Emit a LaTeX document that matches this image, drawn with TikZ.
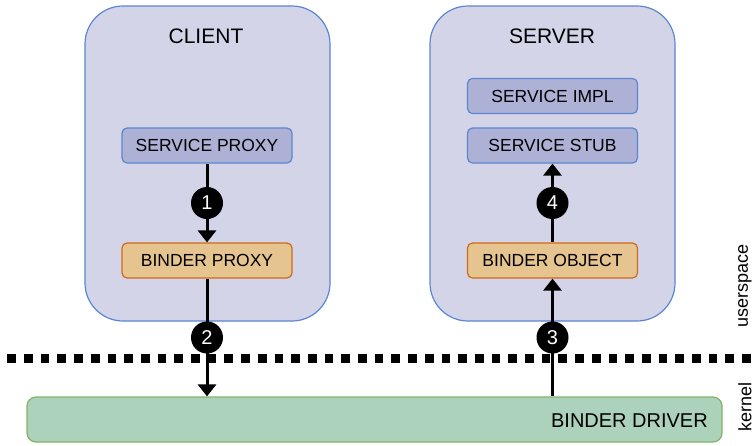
\documentclass[tikz,border=0pt]{standalone}
\usepackage{fontspec}
\setmainfont{Liberation Sans}
\usetikzlibrary{arrows.meta}
\definecolor{contfill}{RGB}{211,212,232}
\definecolor{contline}{RGB}{91,135,207}
\definecolor{svcfill}{RGB}{174,177,214}
\definecolor{bndfill}{RGB}{230,196,143}
\definecolor{bndline}{RGB}{208,106,26}
\definecolor{drvfill}{RGB}{172,210,187}
\definecolor{drvline}{RGB}{130,179,102}
\tikzset{
  container/.style={draw=contline, fill=contfill, line width=1.2pt, rounded corners=38pt,
    minimum width=245pt, minimum height=315pt, inner sep=0pt},
  title/.style={font=\fontsize{21}{25}\selectfont, inner sep=0pt},
  svcbox/.style={draw=contline, fill=svcfill, line width=1.2pt, rounded corners=5pt,
    minimum width=170pt, minimum height=35pt, inner sep=0pt, font=\fontsize{17.5}{20}\selectfont},
  bndbox/.style={svcbox, draw=bndline, fill=bndfill},
  drvbox/.style={draw=drvline, fill=drvfill, line width=1.2pt, rounded corners=9pt,
    minimum width=695pt, minimum height=45pt, inner sep=0pt},
  num/.style={circle, fill=black, text=white, minimum size=32pt, inner sep=0pt,
    font=\fontsize{20}{22}\selectfont},
  flow/.style={line width=3pt, -{Triangle[length=12pt, width=18pt]}},
  side/.style={rotate=90, font=\fontsize{18}{20}\selectfont, inner sep=0pt},
}
\begin{document}
\begin{tikzpicture}[x=1pt, y=-1pt]
\useasboundingbox (0,0) rectangle (755,445);
% containers
\node[container] (client) at (207.5,163.5) {};
\node[container] (server) at (552.5,163.5) {};
\node[title] (clientt) at (206,36) {CLIENT};
\node[title] (servert) at (552,36) {SERVER};
% inner boxes
\node[svcbox] (sproxy) at (207,145.5) {SERVICE PROXY};
\node[bndbox] (bproxy) at (207,260.5) {BINDER PROXY};
\node[svcbox] (simpl) at (552.5,96) {SERVICE IMPL};
\node[svcbox] (sstub) at (552.5,145.5) {SERVICE STUB};
\node[bndbox] (bobj) at (552.5,260.5) {BINDER OBJECT};
% driver
\node[drvbox] (drv) at (374.5,419.5) {};
\node[anchor=east, inner sep=0pt, font=\fontsize{20}{23}\selectfont] (drvt) at (708,421) {BINDER DRIVER};
% kernel / userspace separator
\coordinate (sepl) at (7.3,358.5);
\coordinate (sepr) at (755,358.5);
\draw[line width=8.6pt, dash pattern=on 8.7pt off 8pt] (sepl) -- (sepr);
% side labels
\node[side] (us) at (745,286) {userspace};
\node[side] (kn) at (745,407) {kernel};
% flows
\draw[flow] (sproxy.south) -- node[num] (n1) {1} (bproxy.north);
\draw[flow] (bproxy.south) -- node[num] (n2) {2} (bproxy.south |- drv.north);
\draw[flow] (bobj.south |- drv.north) -- node[num] (n3) {3} (bobj.south);
\draw[flow] (bobj.north) -- node[num] (n4) {4} (sstub.south);
\end{tikzpicture}
\end{document}
